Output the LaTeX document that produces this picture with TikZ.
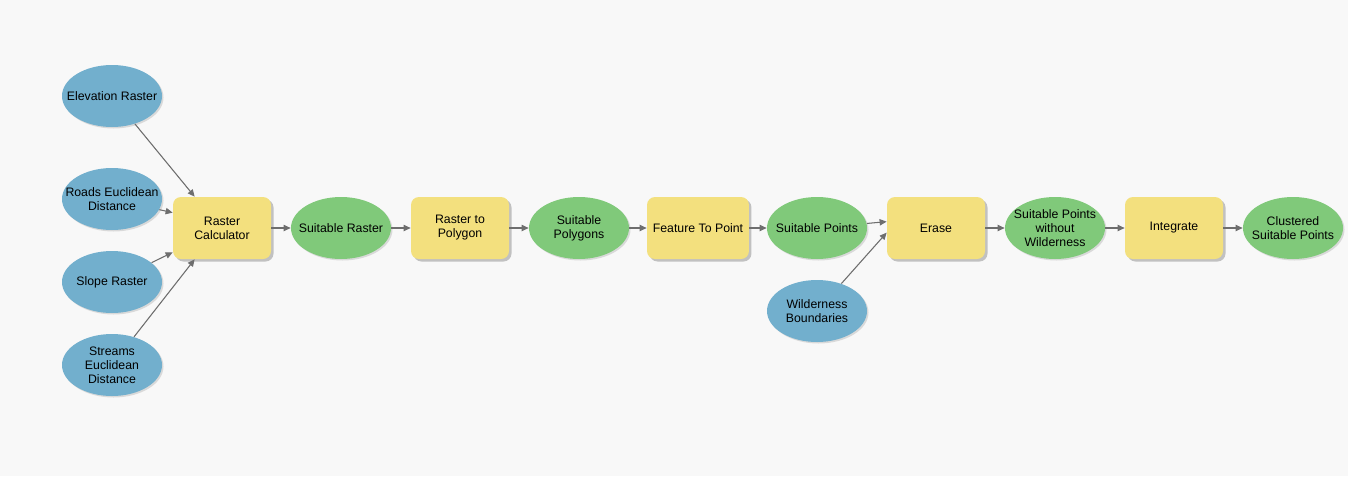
\documentclass[tikz,border=0pt]{standalone}
\usepackage{fontspec}
\setmainfont{Liberation Sans}
\usetikzlibrary{positioning, shapes.geometric, arrows.meta, shadows}

\definecolor{canvas}{HTML}{F8F8F8}
\definecolor{inputblue}{HTML}{72AFCD}
\definecolor{outgreen}{HTML}{80C97A}
\definecolor{toolyellow}{HTML}{F3E07E}
\definecolor{linkgray}{HTML}{6E6E6E}

\begin{document}
\begin{tikzpicture}
    \tikzset{
      font=\fontsize{7}{8}\selectfont, % small model builder labels
      node distance=2.38cm, % centre to centre along the main row
      inputdata/.style={ellipse, fill=inputblue, minimum width=2cm, minimum height=1.24cm,
        inner xsep=-0.4cm, inner ysep=0pt, align=center,
        drop shadow={shadow xshift=0.03cm, shadow yshift=-0.03cm, opacity=0.25}},
      outdata/.style={inputdata, fill=outgreen}, % derived data
      tool/.style={rectangle, rounded corners=0.16cm, fill=toolyellow, minimum width=1.96cm,
        minimum height=1.24cm, align=center,
        drop shadow={shadow xshift=0.05cm, shadow yshift=-0.05cm, opacity=0.45}},
      flow/.style={draw=linkgray, line width=0.6pt, -{Triangle[length=4pt,width=3.6pt]}, fill=linkgray},
    }

    \fill[canvas] (0,0) rectangle (26.96,-9.52);
    \useasboundingbox (0,0) rectangle (26.96,-9.52);

    % main row
    \node[tool] (rc) at (4.44,-4.56) {Raster\\Calculator};
    \node[outdata, right of=rc] (sr) {Suitable Raster};
    \node[tool, right of=sr] (r2p) {Raster to\\Polygon};
    \node[outdata, right of=r2p] (spoly) {Suitable\\Polygons};
    \node[tool, right of=spoly] (f2p) {Feature To Point};
    \node[outdata, right of=f2p] (spts) {Suitable Points};
    \node[tool, right of=spts] (erase) {Erase};
    \node[outdata, right of=erase] (spnw) {Suitable Points\\without\\Wilderness};
    \node[tool, right of=spnw] (integ) {Integrate};
    \node[outdata, right of=integ] (clust) {Clustered\\Suitable Points};

    % inputs
    \node[inputdata] (elev) at (2.24,-1.92) {Elevation Raster};
    \node[inputdata] (roads) at (2.24,-3.98) {Roads Euclidean\\Distance};
    \node[inputdata] (slope) at (2.24,-5.64) {Slope Raster};
    \node[inputdata] (streams) at (2.24,-7.30) {Streams\\Euclidean\\Distance};
    \node[inputdata, below of=spts, node distance=1.66cm] (wild) {Wilderness\\Boundaries};

    \draw[flow] (elev) -- ([xshift=0.44cm]rc.north west);
    \draw[flow] (roads) -- ([yshift=-0.32cm]rc.north west);
    \draw[flow] (slope) -- ([yshift=0.14cm]rc.south west);
    \draw[flow] (streams) -- ([xshift=0.44cm]rc.south west);
    \draw[flow] (rc) -- (sr);
    \draw[flow] (sr) -- (r2p);
    \draw[flow] (r2p) -- (spoly);
    \draw[flow] (spoly) -- (f2p);
    \draw[flow] (f2p) -- (spts);
    \draw[flow] (spts) -- ([yshift=-0.5cm]erase.north west);
    \draw[flow] (wild) -- ([yshift=-0.72cm]erase.north west);
    \draw[flow] (erase) -- (spnw);
    \draw[flow] (spnw) -- (integ);
    \draw[flow] (integ) -- (clust);
\end{tikzpicture}
\end{document}
